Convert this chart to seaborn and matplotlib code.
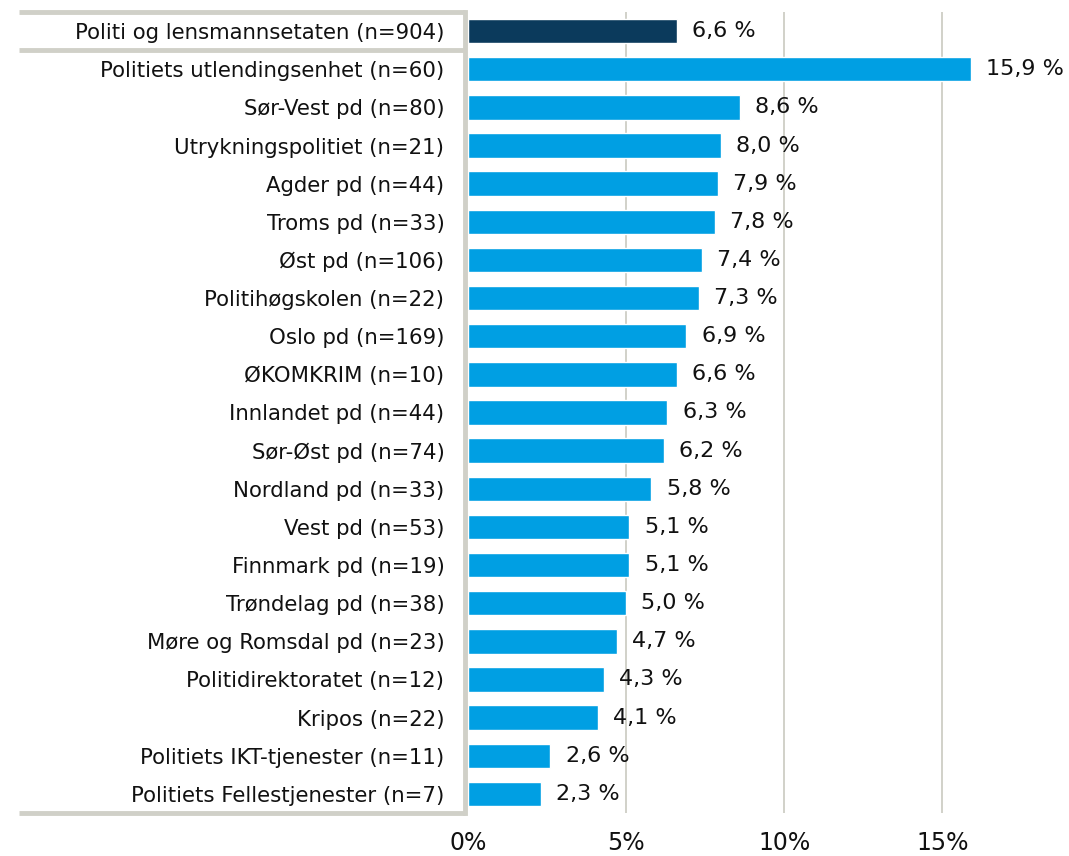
import numpy as np
import matplotlib
matplotlib.use("Agg")
import matplotlib.pyplot as plt
import matplotlib.transforms as mtransforms
from matplotlib.lines import Line2D
import seaborn as sns

# ----- DATA -----
kategorier = [
    "Politi og lensmannsetaten (n=904)",
    "Politiets utlendingsenhet (n=60)",
    "Sør-Vest pd (n=80)",
    "Utrykningspolitiet (n=21)",
    "Agder pd (n=44)",
    "Troms pd (n=33)",
    "Øst pd (n=106)",
    "Politihøgskolen (n=22)",
    "Oslo pd (n=169)",
    "ØKOMKRIM (n=10)",
    "Innlandet pd (n=44)",
    "Sør-Øst pd (n=74)",
    "Nordland pd (n=33)",
    "Vest pd (n=53)",
    "Finnmark pd (n=19)",
    "Trøndelag pd (n=38)",
    "Møre og Romsdal pd (n=23)",
    "Politidirektoratet (n=12)",
    "Kripos (n=22)",
    "Politiets IKT-tjenester (n=11)",
    "Politiets Fellestjenester (n=7)",
]
andel = [6.6, 15.9, 8.6, 8.0, 7.9, 7.8, 7.4, 7.3, 6.9, 6.6, 6.3,
         6.2, 5.8, 5.1, 5.1, 5.0, 4.7, 4.3, 4.1, 2.6, 2.3]
x_ticks = [0, 5, 10, 15]
x_ticklabels = ["0%", "5%", "10%", "15%"]

MORK = "#0B3A5C"
BLA = "#009FE3"
GRA = "#D0D0C8"
couleurs = [MORK] + [BLA] * (len(kategorier) - 1)

# ----- FIGURE -----
sns.set_theme(style="white")
plt.rcParams["font.family"] = ["DejaVu Sans"]

fig = plt.figure(figsize=(10.69, 8.56), dpi=100)
ax = fig.add_axes([468 / 1069, 1 - 813 / 856, 1 - 468 / 1069, (813 - 12) / 856])

sns.barplot(x=andel, y=kategorier, hue=kategorier, palette=couleurs,
            saturation=1, legend=False, orient="h", width=0.64, ax=ax, zorder=3)

ax.set_xlim(0, 19)
ax.set_ylim(len(kategorier) - 0.5, -0.5)
ax.set_xticks(x_ticks)
ax.set_xticklabels(x_ticklabels, fontsize=17)
ax.tick_params(axis="x", length=0, pad=13, colors="#111111")
ax.tick_params(axis="y", length=0, pad=17, labelsize=15.3, colors="#111111")
ax.set_xlabel("")
ax.set_ylabel("")
for s in ax.spines.values():
    s.set_visible(False)

# grille verticale
for t in x_ticks[1:]:
    ax.axvline(t, color="#C9C9C0", linewidth=1.2, zorder=1)

# étiquettes de valeur
for i, v in enumerate(andel):
    ax.annotate(f"{v:.1f} %".replace(".", ","), xy=(v, i), xytext=(11, 0),
                textcoords="offset points", va="center", ha="left",
                fontsize=16, color="#111111")

# cadre gris autour des libellés
trans = mtransforms.blended_transform_factory(fig.transFigure, ax.transData)
x0 = 19 / 1069
x1 = 465 / 1069
for y in [-0.5, 0.5, len(kategorier) - 0.5]:
    fig.add_artist(Line2D([x0, x1], [y, y], transform=trans, color=GRA,
                          linewidth=3.5, solid_capstyle="butt"))
fig.add_artist(Line2D([x1, x1], [-0.5, len(kategorier) - 0.5], transform=trans,
                      color=GRA, linewidth=3.5, solid_capstyle="projecting"))

fig.savefig("out.png", dpi=100)
